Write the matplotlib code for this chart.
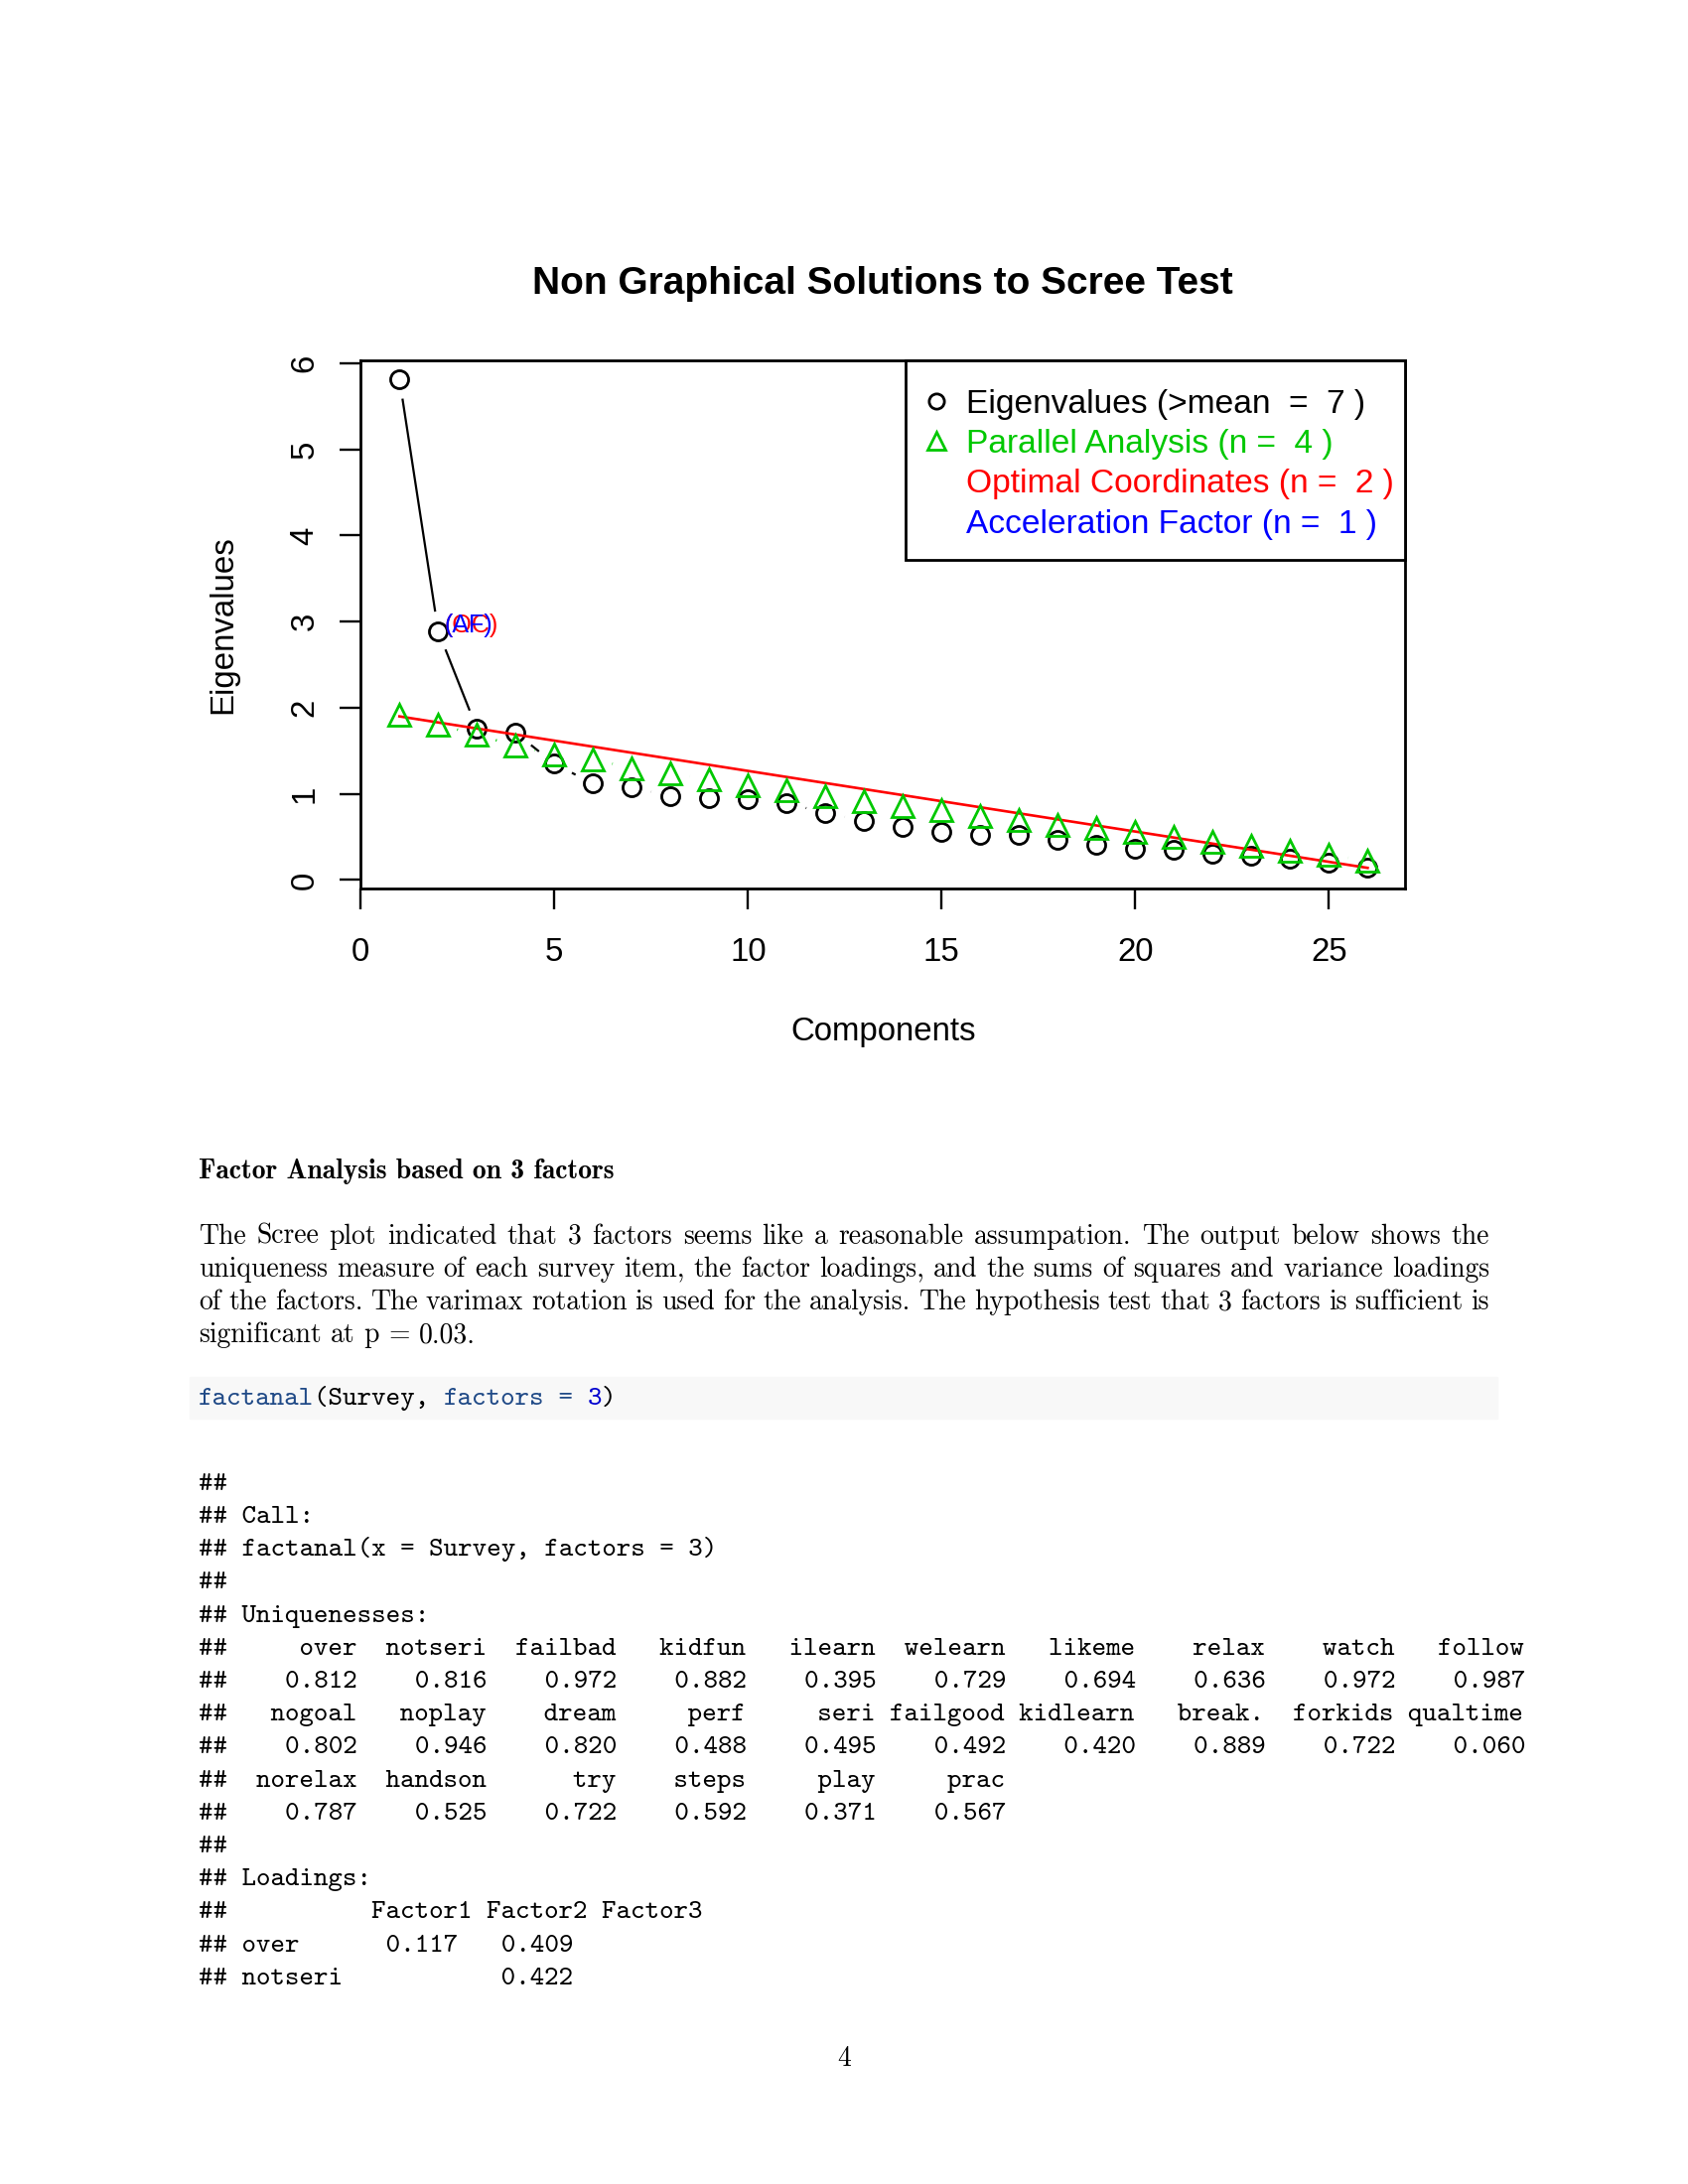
import numpy as np
import matplotlib
matplotlib.use("Agg")
import matplotlib.pyplot as plt
from matplotlib.lines import Line2D
from matplotlib.patches import Rectangle

# ---------------- data ----------------
components = list(range(1, 27))
eigenvalues = [5.815, 2.89, 1.755, 1.71, 1.35, 1.118, 1.072, 0.978, 0.955, 0.94,
               0.895, 0.777, 0.688, 0.615, 0.56, 0.522, 0.522, 0.465, 0.405, 0.36,
               0.355, 0.303, 0.277, 0.25, 0.207, 0.141]
parallel = [1.92, 1.806, 1.687, 1.558, 1.46, 1.40, 1.30, 1.24, 1.166, 1.10,
            1.04, 0.975, 0.914, 0.86, 0.81, 0.745, 0.70, 0.645, 0.605, 0.555,
            0.504, 0.448, 0.393, 0.342, 0.297, 0.22]
oc_line_x = [1, 26]
oc_line_y = [1.90, 0.141]
label_component = 2
x_ticks = [0, 5, 10, 15, 20, 25]
y_ticks = [0, 1, 2, 3, 4, 5, 6]
legend_labels = ["Eigenvalues (>mean  =  7 )", "Parallel Analysis (n =  4 )",
                 "Optimal Coordinates (n =  2 )", "Acceleration Factor (n =  1 )"]
title = "Non Graphical Solutions to Scree Test"

heading = "Factor Analysis based on 3 factors"
paragraph_lines = [
    "The Scree plot indicated that 3 factors seems like a reasonable assumpation. The output below shows the",
    "uniqueness measure of each survey item, the factor loadings, and the sums of squares and variance loadings",
    "of the factors. The varimax rotation is used for the analysis. The hypothesis test that 3 factors is sufficient is",
    "significant at p = 0.03.",
]
code_tokens = [("factanal", "#204a87"), ("(Survey, ", "black"), ("factors", "#204a87"),
               (" = ", "#204a87"), ("3", "#0000cf"), (")", "black")]
uniq_names = [["over", "notseri", "failbad", "kidfun", "ilearn", "welearn", "likeme", "relax", "watch", "follow"],
              ["nogoal", "noplay", "dream", "perf", "seri", "failgood", "kidlearn", "break.", "forkids", "qualtime"],
              ["norelax", "handson", "try", "steps", "play", "prac"]]
uniq_values = [["0.812", "0.816", "0.972", "0.882", "0.395", "0.729", "0.694", "0.636", "0.972", "0.987"],
               ["0.802", "0.946", "0.820", "0.488", "0.495", "0.492", "0.420", "0.889", "0.722", "0.060"],
               ["0.787", "0.525", "0.722", "0.592", "0.371", "0.567"]]
loading_rows = [("over", ["0.117", "0.409", ""]), ("notseri", ["", "0.422", ""])]
page_number = "4"

# ---------------- figure ----------------
W, H = 1700, 2200
fig = plt.figure(figsize=(17, 22), dpi=100)
fx = lambda x: x / W
fy = lambda y: 1 - y / H

GREEN = "#00c800"
sans = "Liberation Sans"

ax_l, ax_r, ax_t, ax_b = 363.3, 1415.2, 363.3, 894.9
ax_w, ax_h = ax_r - ax_l, ax_b - ax_t
ax = fig.add_axes([fx(ax_l), fy(ax_b), fx(ax_w), ax_h / H])
ax.set_xlim(0, 26.97)
ax.set_ylim(-0.097, 6.03)

for s in ax.spines.values():
    s.set_linewidth(2.0)
ax.set_xticks(x_ticks)
ax.set_yticks(y_ticks)
ax.tick_params(axis="both", direction="out", length=15, width=1.7, labelsize=23.8)
ax.tick_params(axis="x", pad=20.5)
ax.tick_params(axis="y", pad=14.5, labelrotation=90)
for t in ax.get_xticklabels() + ax.get_yticklabels():
    t.set_fontfamily(sans)
for t in ax.get_yticklabels():
    t.set_va("center")

# markers
ax.plot(components, eigenvalues, ls="none", marker="o", ms=13, mfc="none",
        mec="black", mew=2.0, zorder=3)
ax.plot(oc_line_x, oc_line_y, color="red", lw=1.9, zorder=4)
ax.plot(components, parallel, ls="none", marker="^", ms=15.5, mfc="none",
        mec=GREEN, mew=2.0, zorder=5)


def b_lines(xs, ys, gap_px, **kw):
    pts = ax.transData.transform(np.column_stack([xs, ys]))
    inv = ax.transData.inverted()
    for p0, p1 in zip(pts[:-1], pts[1:]):
        d = p1 - p0
        L = np.hypot(*d)
        if L > 2 * gap_px:
            u = d / L
            a = inv.transform(p0 + u * gap_px)
            b = inv.transform(p1 - u * gap_px)
            ax.plot([a[0], b[0]], [a[1], b[1]], solid_capstyle="butt", **kw)


b_lines(components, eigenvalues, 19.85, color="black", lw=1.6, zorder=3)
b_lines(components, parallel, 19.75, color=GREEN, lw=1.8, zorder=3)

lx, ly = label_component, eigenvalues[label_component - 1]
ax.annotate("(OC)", xy=(lx, ly), xytext=(6, 6), textcoords="offset pixels",
            ha="left", va="center", color="red", fontsize=18, fontfamily=sans, zorder=6)
ax.annotate("(AF)", xy=(lx, ly), xytext=(6, 6), textcoords="offset pixels",
            ha="left", va="center", color="blue", fontsize=18, fontfamily=sans, zorder=7)

# legend box (frame drawn as a rectangle, entries by the legend)
box_l, box_b = 911.7, 563.9
ax.add_patch(Rectangle(((box_l - ax_l) / ax_w, 1 - (box_b - ax_t) / ax_h),
                       1 - (box_l - ax_l) / ax_w, (box_b - ax_t) / ax_h,
                       transform=ax.transAxes, facecolor="white", edgecolor="black",
                       lw=2.0, clip_on=False, zorder=8))
handles = [Line2D([], [], ls="none", marker="o", ms=11, mfc="none", mec="black", mew=2.0),
           Line2D([], [], ls="none", marker="^", ms=13, mfc="none", mec=GREEN, mew=2.0),
           Line2D([], [], ls="none"), Line2D([], [], ls="none")]
leg = ax.legend(handles, legend_labels, loc="upper left",
                bbox_to_anchor=((907.5 - ax_l) / ax_w, 1 - 2.8 / ax_h),
                borderaxespad=0, prop={"family": sans, "size": 24.1}, frameon=False,
                borderpad=0.76, labelspacing=0.28, handlelength=0.61, handletextpad=0.59)
leg.set_zorder(9)
for t, c in zip(leg.get_texts(), ["black", GREEN, "red", "blue"]):
    t.set_color(c)

ax.set_title(title, fontsize=28, fontweight="bold", fontfamily=sans, y=1.1266, pad=0)
ax.set_xlabel("Components", fontsize=23.8, fontfamily=sans)
ax.xaxis.set_label_coords(0.5, -0.242)
ax.set_ylabel("Eigenvalues", fontsize=23.8, fontfamily=sans)
ax.yaxis.set_label_coords(-0.1174, 0.5)

# ---------------- page text ----------------
renderer = fig.canvas.get_renderer()
BODY = 19.92
X0, X1 = 200.0, 1500.0

fig.text(fx(X0), fy(1186.6), heading, fontfamily="cmb10", fontsize=BODY, va="baseline")


def justified(line, y, last=False):
    words = line.split(" ")
    texts = [fig.text(0, 0, w, fontfamily="cmr10", fontsize=BODY, va="baseline") for w in words]
    widths = [t.get_window_extent(renderer).width for t in texts]
    space = texts[0].get_fontsize() * 100 / 72 * 0.333
    gap = space if last else (X1 - X0 - sum(widths)) / (len(words) - 1)
    x = X0
    for t, w in zip(texts, widths):
        t.set_position((fx(x), fy(y)))
        x += w + gap


base = 1252.6
for i, line in enumerate(paragraph_lines):
    justified(line, base + i * 33.2, last=(i == len(paragraph_lines) - 1))

# code chunk
fig.patches.append(Rectangle((fx(191), fy(1429)), fx(1508 - 191), 42 / H,
                             transform=fig.transFigure, color="#f8f8f8", zorder=0))
probe = fig.text(0, 0, "x" * 20, fontfamily="cmtt10", fontsize=BODY)
charw = probe.get_window_extent(renderer).width / 20
probe.remove()
col = 0
for tok, c in code_tokens:
    fig.text(fx(X0 + col * charw), fy(1415), tok, fontfamily="cmtt10", fontsize=BODY,
             va="baseline", color=c)
    col += len(tok)

# output lines
out_lines = ["##", "## Call:", "## factanal(x = Survey, factors = 3)", "##", "## Uniquenesses:"]
for names, vals in zip(uniq_names, uniq_values):
    out_lines.append("## " + " ".join(f"{n:>8}" for n in names))
    out_lines.append("## " + " ".join(f"{v:>8}" for v in vals))
out_lines += ["##", "## Loadings:", "## " + " " * 8 + " " + " ".join(["Factor1", "Factor2", "Factor3"])]
for name, vals in loading_rows:
    cells = [(" " + v if v else "").ljust(7) for v in vals]
    out_lines.append(("## " + f"{name:<8}" + " " + " ".join(cells)).rstrip())
for i, line in enumerate(out_lines):
    fig.text(fx(X0), fy(1500.8 + i * 33.2), line, fontfamily="cmtt10", fontsize=BODY,
             va="baseline", color="black")

fig.text(fx(850), fy(2081), page_number, fontfamily="cmr10", fontsize=BODY,
         ha="center", va="baseline")

fig.savefig("out.png", dpi=100, facecolor="white")
